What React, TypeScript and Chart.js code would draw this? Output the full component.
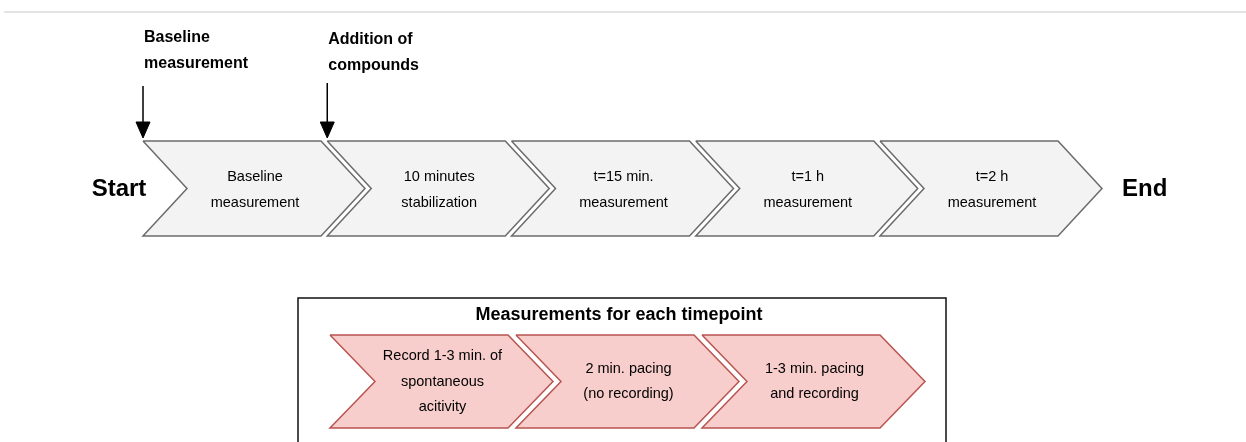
import React, { useEffect, useRef } from "react";
import { Chart, registerables } from "chart.js";

Chart.register(...registerables);

// ---- Data ----
const timelineLine1 = ["Baseline", "10 minutes", "t=15 min.", "t=1 h", "t=2 h"];
const timelineLine2 = ["measurement", "stabilization", "measurement", "measurement", "measurement"];
const timepointLines = [
  ["Record 1-3 min. of", "spontaneous", "acitivity"],
  ["2 min. pacing", "(no recording)"],
  ["1-3 min. pacing", "and recording"],
];
const markerLabels = [
  ["Baseline", "measurement"],
  ["Addition of", "compounds"],
];
const markerSteps = [0, 1];
const startLabel = "Start";
const endLabel = "End";
const boxTitle = "Measurements for each timepoint";

// ---- Layout ----
const W = 1246;
const H = 442;
const FONT = "'Liberation Sans', Arial, Helvetica, sans-serif";

const top = { x0: 143, pitch: 184.25, w: 178, d: 44, yTop: 141, yBot: 236 };
const sub = { x0: 330, pitch: 186, w: 178, d: 45, yTop: 335, yBot: 428 };
const box = { x0: 298, x1: 946, y0: 298, y1: 460 };

type P = { x: number; y: number };

function chevron(g: typeof top, i: number): P[] {
  const s = g.x0 + g.pitch * i;
  const ym = (g.yTop + g.yBot) / 2;
  return [
    { x: s, y: g.yTop },
    { x: s + g.w, y: g.yTop },
    { x: s + g.w + g.d, y: ym },
    { x: s + g.w, y: g.yBot },
    { x: s, y: g.yBot },
    { x: s + g.d, y: ym },
    { x: s, y: g.yTop },
  ];
}

function chevronCenter(g: typeof top, i: number): P {
  const s = g.x0 + g.pitch * i;
  return { x: s + (g.w + g.d) / 2 + 1, y: (g.yTop + g.yBot) / 2 };
}

function polyDataset(pts: P[], fillColor: string | null, stroke: string, bw: number) {
  return {
    type: "scatter" as const,
    data: pts,
    showLine: true,
    tension: 0,
    pointRadius: 0,
    pointHoverRadius: 0,
    borderColor: stroke,
    borderWidth: bw,
    borderJoinStyle: "miter" as const,
    backgroundColor: fillColor ?? "transparent",
    fill: fillColor ? "shape" : false,
  };
}

export default function App() {
  const ref = useRef<HTMLCanvasElement | null>(null);

  useEffect(() => {
    if (!ref.current) return;
    const datasets: any[] = [];

    // top separator line
    datasets.push(polyDataset([{ x: 4, y: 12 }, { x: W, y: 12 }], null, "#e4e4e4", 2));

    // timeline chevrons
    timelineLine1.forEach((_, i) => {
      datasets.push(polyDataset(chevron(top, i), "#f3f3f3", "#6b6b6b", 1.5));
    });

    // marker arrows
    markerSteps.forEach((step, i) => {
      const x = top.x0 + top.pitch * step;
      const y0 = i === 0 ? 86 : 83;
      datasets.push(polyDataset([{ x, y: y0 }, { x, y: 126 }], null, "#000000", 1.5));
      datasets.push(
        polyDataset(
          [
            { x: x - 7, y: 122 },
            { x: x + 7, y: 122 },
            { x, y: 138 },
            { x: x - 7, y: 122 },
          ],
          "#000000",
          "#000000",
          1
        )
      );
    });

    // box
    datasets.push(
      polyDataset(
        [
          { x: box.x0, y: box.y1 },
          { x: box.x0, y: box.y0 },
          { x: box.x1, y: box.y0 },
          { x: box.x1, y: box.y1 },
        ],
        null,
        "#111111",
        1.5
      )
    );

    // sub chevrons
    timepointLines.forEach((_, i) => {
      datasets.push(polyDataset(chevron(sub, i), "#f8cecc", "#b85450", 1.5));
    });

    const textPlugin = {
      id: "diagramText",
      afterDatasetsDraw(chart: any) {
        const ctx: CanvasRenderingContext2D = chart.ctx;
        const xs = chart.scales.x;
        const ys = chart.scales.y;
        const px = (v: number) => xs.getPixelForValue(v);
        const py = (v: number) => ys.getPixelForValue(v);
        ctx.save();
        ctx.fillStyle = "#000";
        ctx.textBaseline = "middle";

        // chevron labels
        ctx.textAlign = "center";
        ctx.font = `14.5px ${FONT}`;
        timelineLine1.forEach((t, i) => {
          const c = chevronCenter(top, i);
          ctx.fillText(t, px(c.x), py(c.y - 12));
          ctx.fillText(timelineLine2[i], px(c.x), py(c.y + 14));
        });
        timepointLines.forEach((lines, i) => {
          const c = chevronCenter(sub, i);
          const n = lines.length;
          lines.forEach((t, k) => {
            ctx.fillText(t, px(c.x), py(c.y + (k - (n - 1) / 2) * 25.5));
          });
        });

        // Start / End
        ctx.font = `bold 24px ${FONT}`;
        ctx.textAlign = "center";
        ctx.fillText(startLabel, px(119), py(189));
        ctx.textAlign = "left";
        ctx.fillText(endLabel, px(1122), py(189));

        // marker labels
        ctx.font = `bold 16px ${FONT}`;
        ctx.textAlign = "left";
        markerSteps.forEach((step, i) => {
          const x = top.x0 + top.pitch * step + 1;
          const dy = i === 0 ? 0 : 2;
          ctx.fillText(markerLabels[i][0], px(x), py(38 + dy));
          ctx.fillText(markerLabels[i][1], px(x), py(64 + dy));
        });

        // box title
        ctx.font = `bold 18px ${FONT}`;
        ctx.textAlign = "center";
        ctx.fillText(boxTitle, px((box.x0 + box.x1) / 2 - 3), py(315));

        ctx.restore();
      },
    };

    const chart = new Chart(ref.current, {
      type: "scatter",
      data: { datasets },
      options: {
        animation: false,
        responsive: false,
        maintainAspectRatio: false,
        layout: { padding: 0 },
        plugins: {
          legend: { display: false },
          tooltip: { enabled: false },
        },
        events: [],
        scales: {
          x: { type: "linear", min: 0, max: W, display: false },
          y: { type: "linear", min: 0, max: H, reverse: true, display: false },
        },
      },
      plugins: [textPlugin],
    });
    return () => chart.destroy();
  }, []);

  return (
    <div style={{ position: "absolute", left: 0, top: 0, width: W, height: H, background: "#fff" }}>
      <canvas ref={ref} width={W} height={H} style={{ width: W, height: H, display: "block" }} />
    </div>
  );
}
